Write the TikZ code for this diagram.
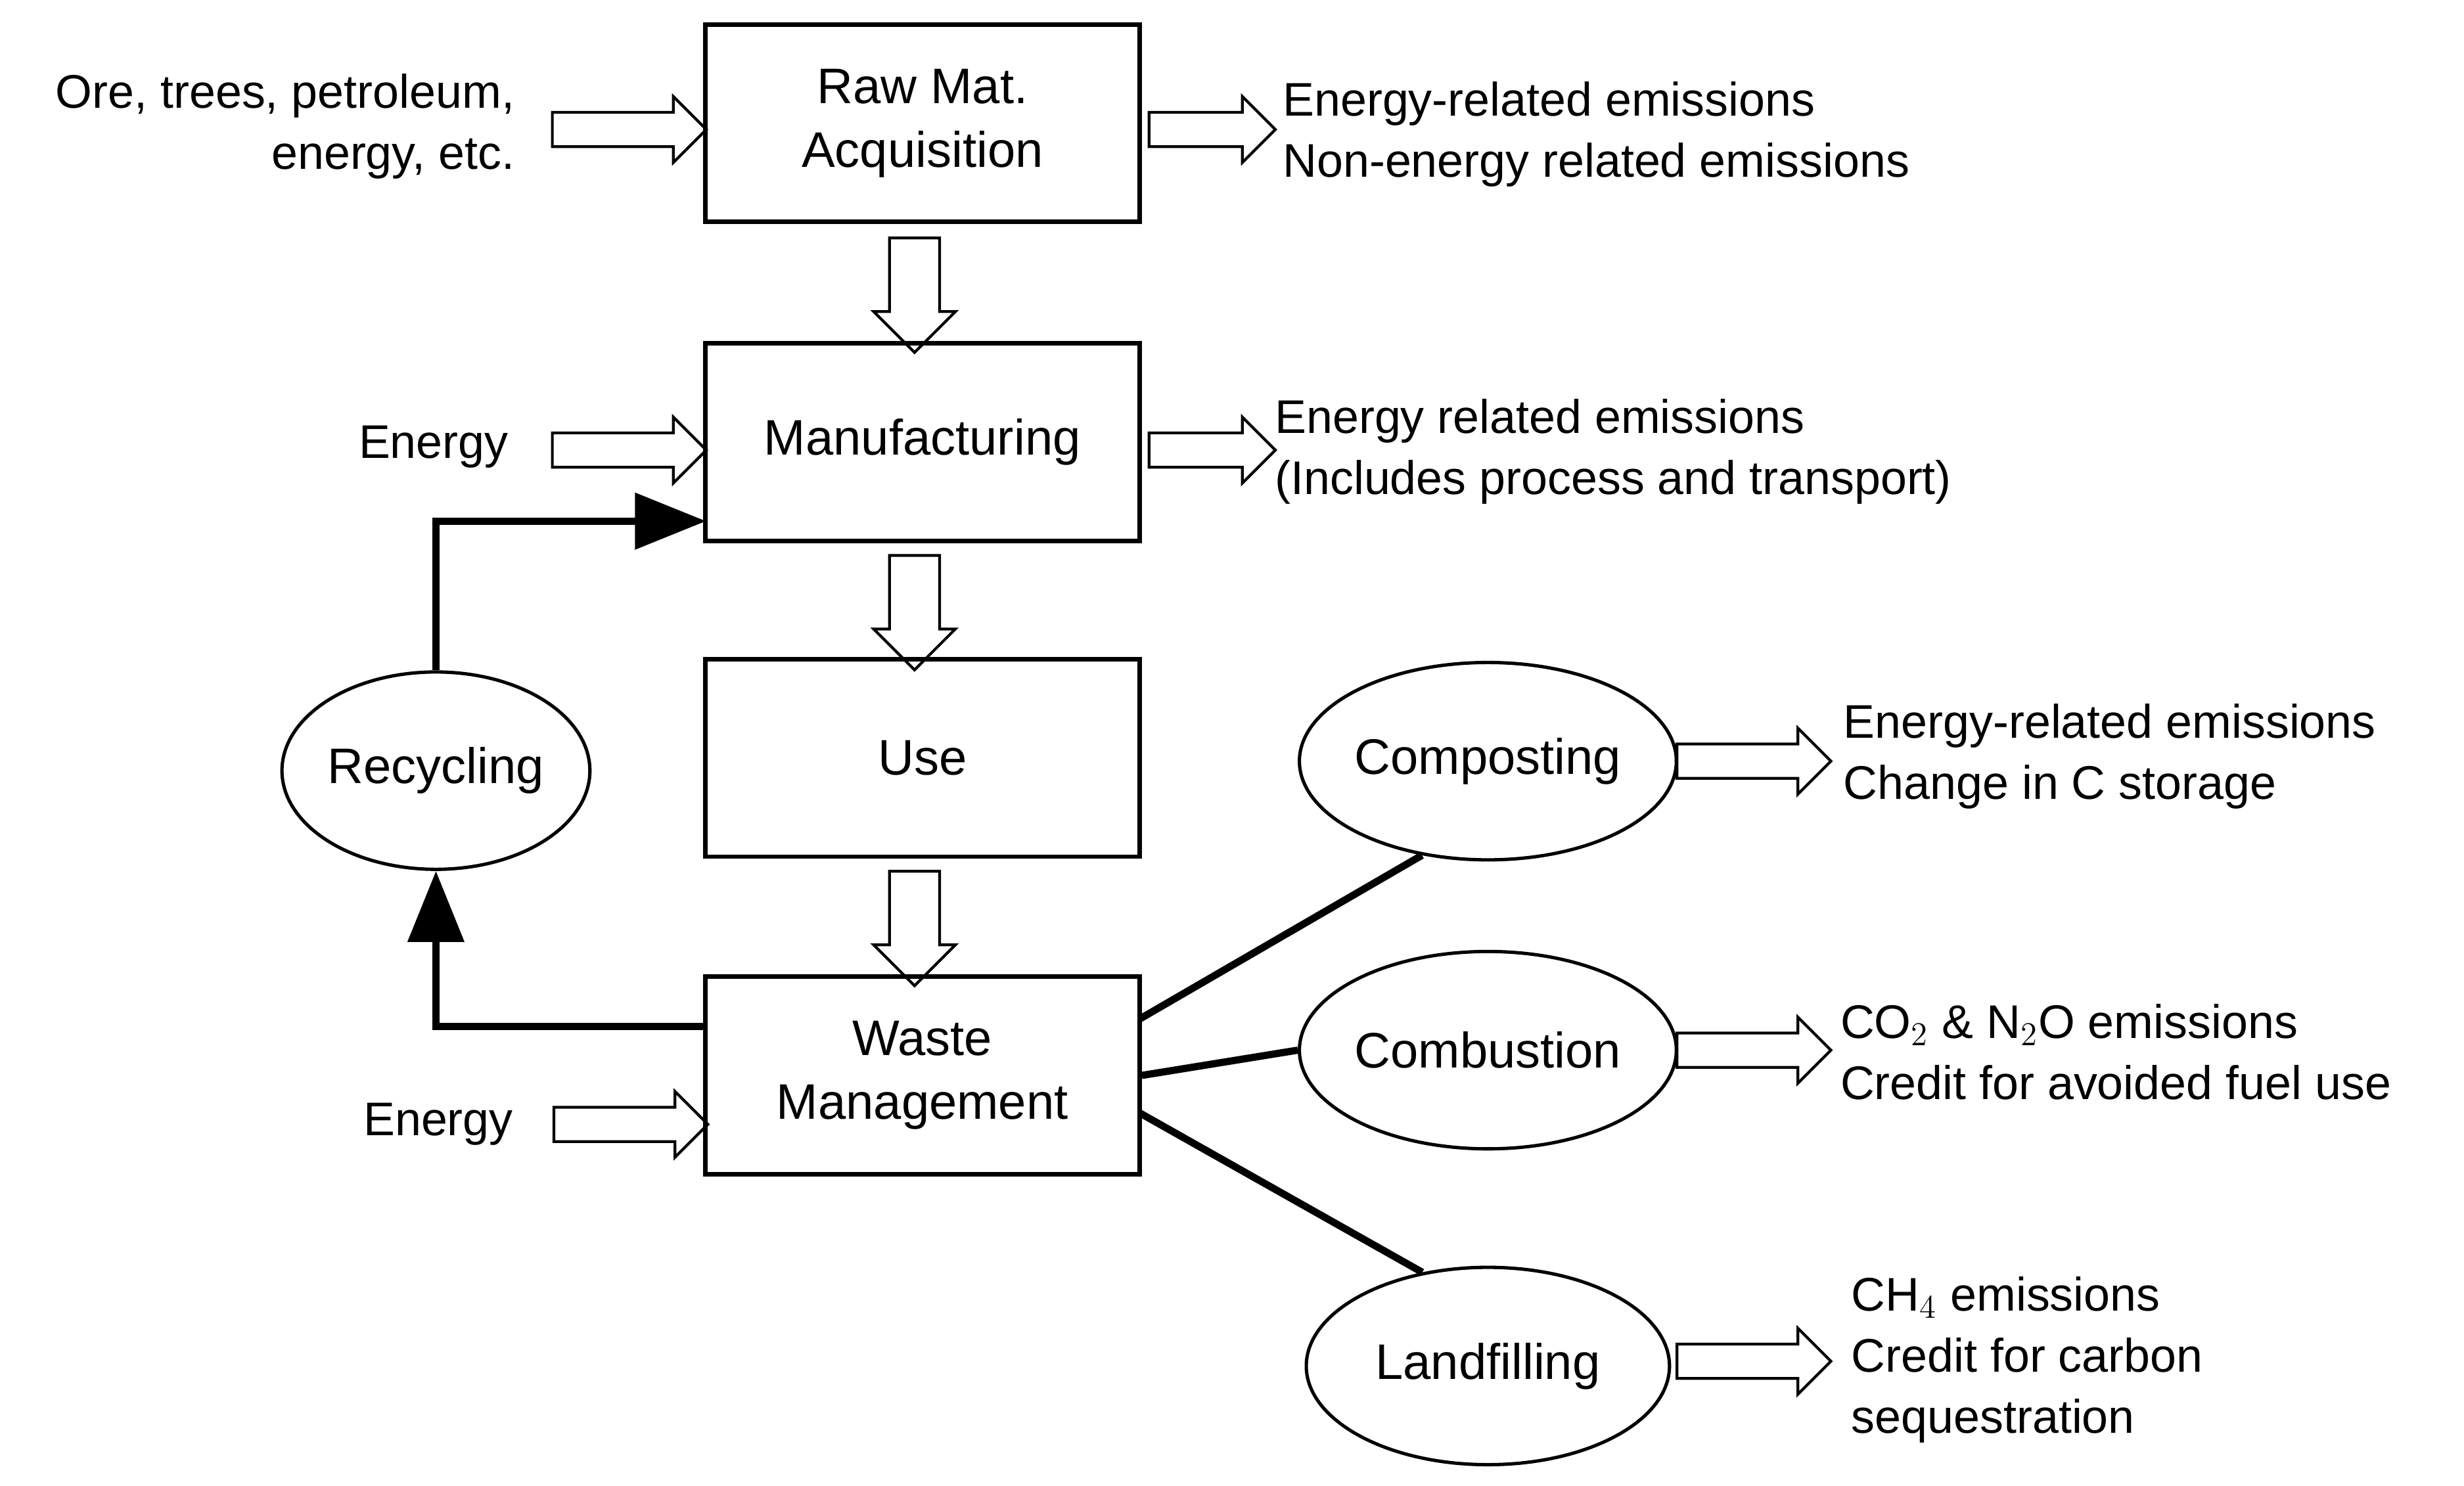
\documentclass[tikz,border=0pt]{standalone}
\usepackage{fontspec}
\setmainfont{Liberation Sans}
\usetikzlibrary{shapes.geometric,shapes.arrows,arrows.meta}
\begin{document}
\begin{tikzpicture}[x=0.02cm,y=-0.02cm,
  every node/.style={font=\fontsize{17}{22}\selectfont},
  box/.style={draw,line width=1.6pt,minimum width=5.5cm,minimum height=2.5cm,align=center,font=\fontsize{18}{23}\selectfont},
  ell/.style={draw,ellipse,line width=1.2pt,minimum width=4.6cm,minimum height=2.5cm,inner sep=0pt,font=\fontsize{18}{23}\selectfont},
  harr/.style={draw,single arrow,line width=1pt,minimum height=1.95cm,minimum width=0.8cm,inner xsep=0pt,inner ysep=0.2cm,single arrow head extend=0.2cm},
  sharr/.style={harr,minimum height=1.6cm},
  varr/.style={draw,single arrow,rotate=-90,line width=1pt,minimum height=1.45cm,minimum width=1.0cm,inner xsep=0pt,inner ysep=0.3cm,single arrow head extend=0.2cm},
  txt/.style={align=left,anchor=west,font=\fontsize{17}{22}\selectfont},
  thick line/.style={line width=2.6pt},
  bigarrow/.style={line width=2.6pt,-{Triangle[length=0.9cm,width=0.7cm]}}]
\useasboundingbox (0,0) rectangle (1560,940.6);
\node[box] (raw) at (584,78) {Raw Mat.\\Acquisition};
\node[box] (man) at (584,280) {Manufacturing};
\node[box] (use) at (584,480) {Use};
\node[box] (waste) at (584,681) {Waste\\Management};
\node[ell,minimum width=3.9cm] (rec) at (276,488) {Recycling};
\node[ell] (comp) at (942,482) {Composting};
\node[ell] (comb) at (942,665) {Combustion};
\node[ell] (land) at (942,865) {Landfilling};
% vertical hollow arrows
\node[varr] (v1) at (579,179) {};
\node[varr] (v2) at (579,380) {};
\node[varr] (v3) at (579,580) {};
% horizontal hollow arrows
\node[harr] (h1) at (393,82) {};
\node[sharr] (h2) at (762,82) {};
\node[harr] (h3) at (393,285) {};
\node[sharr] (h4) at (762,285) {};
\node[harr] (h5) at (394,712) {};
\node[harr] (h6) at (1105,482) {};
\node[harr] (h7) at (1105,665) {};
\node[harr] (h8) at (1105,862) {};
% texts
\node[align=right,anchor=east,font=\fontsize{17}{22}\selectfont] (t1) at (332,80) {Ore, trees, petroleum,\\energy, etc.};
\node[txt] (t2) at (806,85) {Energy-related emissions\\Non-energy related emissions};
\node[anchor=east] (e1) at (328,283) {Energy};
\node[txt] (t3) at (801,286) {Energy related emissions\\(Includes process and transport)};
\node[anchor=east] (e2) at (331,712) {Energy};
\node[txt] (t4) at (1161,479) {Energy-related emissions\\Change in C storage};
\node[txt] (t5) at (1159,666) {CO$_2$ \& N$_2$O emissions\\Credit for avoided fuel use};
\node[txt] (t6) at (1166,861) {CH$_4$ emissions\\Credit for carbon\\sequestration};
% connectors
\coordinate (w1) at (722,645);
\coordinate (w2) at (722,705);
\draw[thick line] (w1) -- (comp.235);
\draw[thick line] (waste.east) -- (comb.west);
\draw[thick line] (w2) -- (land.125);
\coordinate (wl) at (447,650);
\coordinate (c1) at (276,650);
\coordinate (c2) at (276,330);
\coordinate (ml) at (447,330);
\draw[bigarrow] (wl) -- (c1) -- (rec.south);
\draw[bigarrow] (rec.north) -- (c2) -- (ml);
\end{tikzpicture}
\end{document}
